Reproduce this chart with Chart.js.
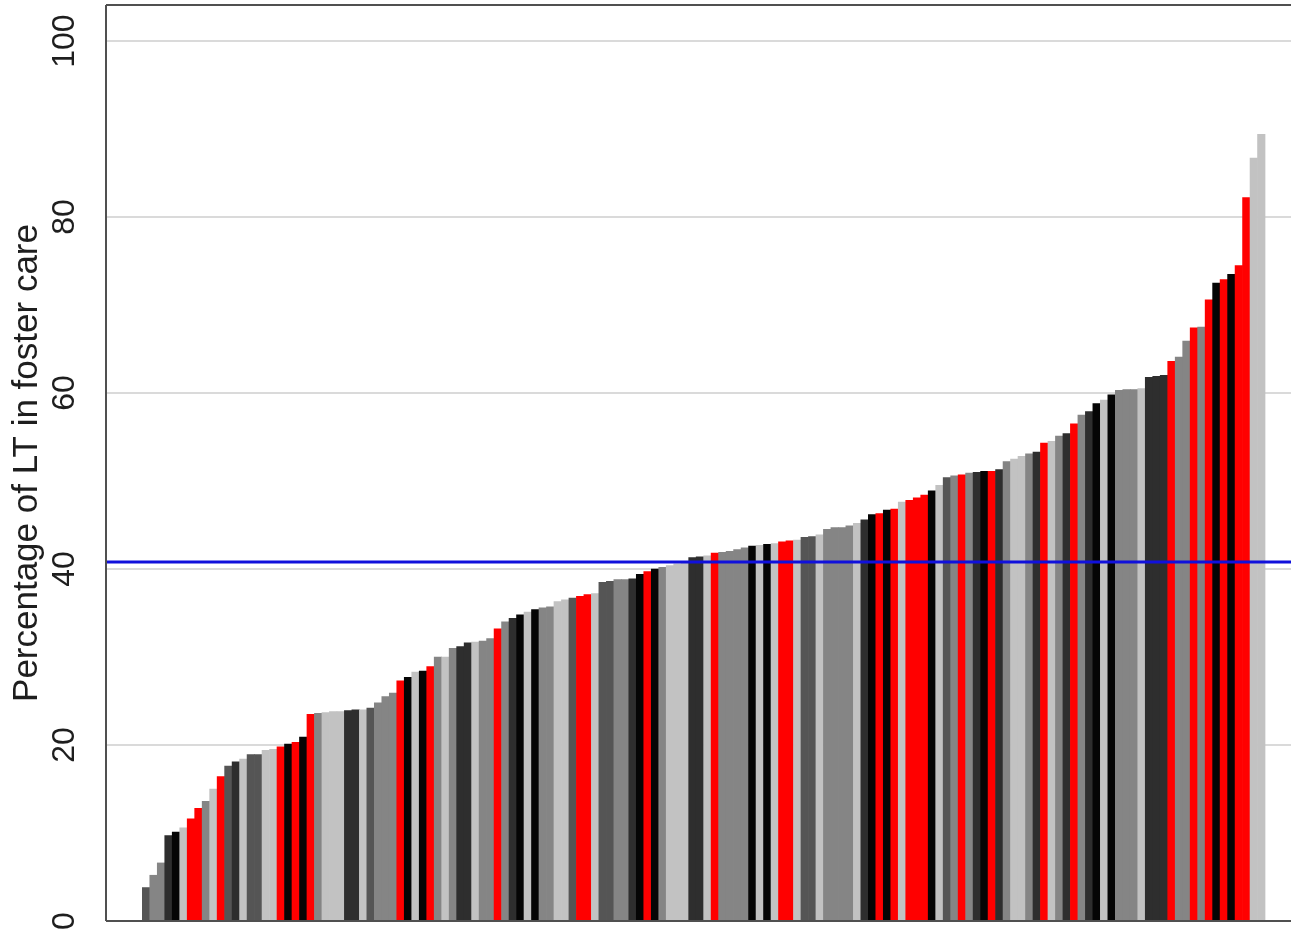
<!DOCTYPE html>
<html>
<head>
<meta charset="utf-8">
<script src="https://cdn.jsdelivr.net/npm/chart.js@4.4.1/dist/chart.umd.min.js"></script>
<style>
  html, body { margin: 0; padding: 0; background: #fff; }
  #wrap { width: 1291px; height: 934px; }
</style>
</head>
<body>
<div id="wrap"><canvas id="fosterChart"></canvas></div>
<script>
// Percentage of looked-after children in foster care, one bar per authority (sorted)
const pct = [
  3.8, 5.2, 6.6, 9.7, 10.1, 10.6, 11.6, 12.8, 13.6, 15.0,
  16.4, 17.6, 18.1, 18.4, 18.9, 18.9, 19.4, 19.5, 19.8, 20.1,
  20.3, 20.9, 23.5, 23.6, 23.7, 23.8, 23.8, 23.9, 24.0, 24.0,
  24.2, 24.8, 25.5, 25.9, 27.3, 27.7, 28.3, 28.4, 28.9, 30.0,
  30.0, 31.0, 31.2, 31.6, 31.7, 31.8, 32.1, 33.2, 34.0, 34.4,
  34.8, 35.1, 35.4, 35.6, 35.7, 36.3, 36.5, 36.7, 36.9, 37.1,
  37.2, 38.5, 38.6, 38.8, 38.8, 38.9, 39.4, 39.7, 40.0, 40.2,
  40.4, 40.6, 40.8, 41.3, 41.4, 41.5, 41.8, 41.9, 42.0, 42.2,
  42.4, 42.6, 42.7, 42.8, 42.9, 43.1, 43.2, 43.3, 43.6, 43.7,
  43.9, 44.5, 44.7, 44.7, 44.9, 45.2, 45.6, 46.2, 46.3, 46.7,
  46.8, 47.6, 47.8, 48.1, 48.4, 48.9, 49.5, 50.4, 50.6, 50.7,
  50.9, 51.0, 51.1, 51.1, 51.3, 52.2, 52.5, 52.8, 53.1, 53.3,
  54.3, 54.5, 55.1, 55.4, 56.5, 57.5, 57.9, 58.8, 59.2, 59.8,
  60.3, 60.4, 60.4, 60.5, 61.8, 61.9, 62.0, 63.6, 64.1, 65.9,
  67.4, 67.5, 70.6, 72.5, 72.9, 73.5, 74.5, 82.2, 86.7, 89.4
];

// group of each bar: K black, D very dark, M dark grey, G grey, L light grey, R red
const groups = [
  'M','G','G','D','K','L','R','R','G','L',
  'R','M','D','L','M','M','L','L','R','K',
  'R','K','R','G','L','L','L','D','D','L',
  'M','G','G','G','R','K','L','K','R','G',
  'L','G','D','D','L','G','G','R','G','D',
  'K','L','K','G','G','L','L','M','R','R',
  'L','M','M','G','G','D','K','R','K','G',
  'L','L','L','D','D','L','R','G','G','G',
  'G','K','L','K','L','R','R','L','M','M',
  'L','G','G','G','G','L','D','K','R','K',
  'R','L','R','R','R','K','L','M','G','R',
  'G','D','K','R','D','G','L','L','G','D',
  'R','L','G','D','R','G','D','K','L','K',
  'G','G','G','L','D','D','D','R','G','G',
  'R','G','R','K','R','K','R','R','L','L'
];

const meanValue = 40.8;
const yTicks = [0, 20, 40, 60, 80, 100];

const palette = {
  K: '#050505',
  D: '#2e2e2e',
  M: '#555555',
  G: '#858585',
  L: '#c2c2c2',
  R: '#ff0000'
};

const framePlugin = {
  id: 'frame',
  afterDatasetsDraw(chart) {
    const {ctx, chartArea} = chart;
    const y = chart.scales.y.getPixelForValue(meanValue);
    ctx.save();
    ctx.strokeStyle = '#1010dc';
    ctx.lineWidth = 3;
    ctx.beginPath();
    ctx.moveTo(chartArea.left, y);
    ctx.lineTo(chartArea.right, y);
    ctx.stroke();
    ctx.restore();
  },
  afterDraw(chart) {
    const {ctx, chartArea} = chart;
    const yScale = chart.scales.y;
    ctx.save();
    ctx.strokeStyle = '#505050';
    ctx.lineWidth = 2;
    ctx.beginPath();
    ctx.moveTo(chartArea.left, chartArea.top);
    ctx.lineTo(chartArea.right, chartArea.top);
    ctx.moveTo(chartArea.left, chartArea.bottom);
    ctx.lineTo(chartArea.right, chartArea.bottom);
    ctx.moveTo(chartArea.left, chartArea.top);
    ctx.lineTo(chartArea.left, chartArea.bottom);
    ctx.stroke();

    // tick labels, rotated like R's default axis labels
    ctx.fillStyle = '#1e1e1e';
    ctx.font = '32px "Liberation Sans", Arial, sans-serif';
    ctx.textAlign = 'center';
    ctx.textBaseline = 'middle';
    yTicks.forEach(v => {
      const py = yScale.getPixelForValue(v);
      ctx.save();
      ctx.translate(65, py);
      ctx.rotate(-Math.PI / 2);
      ctx.fillText(String(v), 0, 0);
      ctx.restore();
    });
    ctx.restore();
  }
};

const ctx = document.getElementById('fosterChart').getContext('2d');
const fosterChart = new Chart(ctx, {
  type: 'bar',
  data: {
    datasets: [{
      data: pct.map((v, i) => ({x: i + 0.5, y: v})),
      backgroundColor: groups.map(g => palette[g]),
      borderWidth: 0,
      barPercentage: 1,
      categoryPercentage: 1
    }]
  },
  options: {
    responsive: true,
    maintainAspectRatio: false,
    animation: false,
    layout: {
      padding: {top: 5, bottom: 13, left: 0, right: 0}
    },
    scales: {
      x: {
        type: 'linear',
        min: -4.85,
        max: 153.47,
        offset: false,
        display: false
      },
      y: {
        min: 0,
        max: 104.1,
        afterFit: function (scale) {
          scale.width = 106;
        },
        ticks: {
          stepSize: 20,
          includeBounds: false,
          display: false
        },
        grid: {
          color: function (c) {
            return c.tick && c.tick.value === 0 ? 'rgba(0,0,0,0)' : '#dadada';
          },
          lineWidth: 2,
          drawTicks: false
        },
        border: {
          display: false
        },
        title: {
          display: true,
          text: 'Percentage of LT in foster care',
          color: '#1e1e1e',
          font: {family: '"Liberation Sans", Arial, sans-serif', size: 35},
          padding: {top: 6, bottom: 0}
        }
      }
    },
    plugins: {
      legend: {display: false},
      tooltip: {enabled: false}
    }
  },
  plugins: [framePlugin]
});
</script>
</body>
</html>
